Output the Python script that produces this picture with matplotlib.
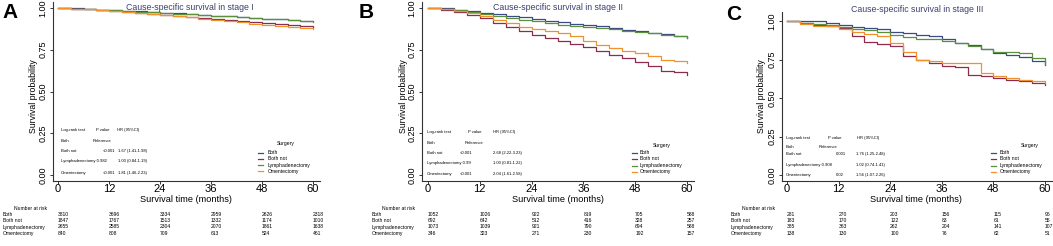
import numpy as np
import matplotlib
matplotlib.use("Agg")
import matplotlib.pyplot as plt
from matplotlib.transforms import blended_transform_factory

W, H = 1053, 246
plt.rcParams['font.family'] = ['Liberation Sans', 'DejaVu Sans']

# ---------------- data ----------------
months = list(range(0, 61, 3))
groups = ["Both", "Both not", "Lymphadenectomy", "Omentectomy"]
colors = ["#3d4a86", "#8c2d4e", "#5a8f3c", "#f0912c"]

stageI_both = [1.0, 0.998, 0.995, 0.991, 0.988, 0.984, 0.980, 0.976, 0.972, 0.968, 0.963,
               0.959, 0.955, 0.951, 0.946, 0.942, 0.937, 0.933, 0.928, 0.924, 0.920]
stageI_bothnot = [1.0, 0.997, 0.993, 0.988, 0.982, 0.976, 0.970, 0.964, 0.958, 0.952, 0.946,
                  0.940, 0.933, 0.927, 0.920, 0.914, 0.908, 0.903, 0.898, 0.893, 0.888]
stageI_lymph = [1.0, 0.997, 0.994, 0.991, 0.987, 0.983, 0.979, 0.975, 0.971, 0.967, 0.962,
                0.958, 0.954, 0.950, 0.945, 0.941, 0.936, 0.932, 0.927, 0.922, 0.918]
stageI_omen = [1.0, 0.996, 0.992, 0.986, 0.980, 0.974, 0.968, 0.962, 0.956, 0.950, 0.944,
               0.937, 0.930, 0.922, 0.915, 0.907, 0.900, 0.892, 0.885, 0.878, 0.872]

stageII_both = [1.0, 0.998, 0.990, 0.982, 0.972, 0.962, 0.953, 0.944, 0.935, 0.925, 0.915,
                0.905, 0.898, 0.890, 0.880, 0.870, 0.862, 0.852, 0.842, 0.832, 0.822]
stageII_bothnot = [1.0, 0.990, 0.975, 0.960, 0.940, 0.910, 0.885, 0.860, 0.840, 0.820, 0.800,
                   0.785, 0.765, 0.745, 0.720, 0.700, 0.675, 0.650, 0.625, 0.615, 0.598]
stageII_lymph = [1.0, 0.996, 0.987, 0.975, 0.962, 0.950, 0.940, 0.930, 0.920, 0.910, 0.900,
                 0.893, 0.886, 0.880, 0.872, 0.865, 0.857, 0.848, 0.840, 0.830, 0.822]
stageII_omen = [1.0, 0.995, 0.982, 0.968, 0.950, 0.930, 0.910, 0.885, 0.875, 0.865, 0.850,
                0.835, 0.800, 0.780, 0.762, 0.745, 0.730, 0.710, 0.690, 0.682, 0.672]

stageIII_both = [1.0, 1.0, 1.0, 0.990, 0.975, 0.963, 0.955, 0.945, 0.930, 0.920, 0.910,
                 0.905, 0.885, 0.860, 0.845, 0.820, 0.795, 0.780, 0.765, 0.740, 0.712]
stageIII_bothnot = [1.0, 0.985, 0.975, 0.970, 0.955, 0.900, 0.865, 0.850, 0.840, 0.770, 0.745,
                    0.730, 0.710, 0.700, 0.650, 0.640, 0.630, 0.620, 0.610, 0.600, 0.585]
stageIII_lymph = [1.0, 0.985, 0.978, 0.972, 0.960, 0.950, 0.940, 0.930, 0.910, 0.895, 0.885,
                  0.880, 0.872, 0.860, 0.840, 0.820, 0.800, 0.800, 0.790, 0.760, 0.720]
stageIII_omen = [1.0, 0.980, 0.970, 0.965, 0.950, 0.930, 0.915, 0.900, 0.860, 0.800, 0.745,
                 0.740, 0.730, 0.730, 0.730, 0.660, 0.645, 0.630, 0.620, 0.610, 0.600]

risk_times = [0, 12, 24, 36, 48, 60]
risk_I = [[3810, 3696, 3334, 2959, 2626, 2318],
          [1847, 1767, 1513, 1332, 1174, 1010],
          [2655, 2585, 2304, 2070, 1861, 1638],
          [840, 808, 709, 613, 524, 461]]
risk_II = [[1052, 1026, 922, 819, 705, 588],
           [692, 642, 512, 416, 328, 257],
           [1073, 1039, 921, 790, 694, 588],
           [346, 323, 271, 230, 192, 157]]
risk_III = [[281, 270, 203, 156, 115, 96],
            [183, 170, 122, 83, 61, 55],
            [385, 363, 262, 204, 141, 107],
            [138, 130, 100, 76, 62, 51]]

titles = ["Cause-specific survival in stage I", "Cause-specific survival in stage II",
          "Cause-specific survival in stage III"]
letters = ["A", "B", "C"]

logrank_I = [("Both not", "<0.001", "1.67 (1.41-1.98)"),
             ("Lymphadenectomy", "0.982", "1.00 (0.84-1.19)"),
             ("Omentectomy", "<0.001", "1.81 (1.46-2.23)")]
logrank_II = [("Both not", "<0.001", "2.68 (2.22-3.23)"),
              ("Lymphadenectomy", "0.99", "1.00 (0.81-1.22)"),
              ("Omentectomy", "<0.001", "2.04 (1.61-2.58)")]
logrank_III = [("Both not", "0.001", "1.76 (1.25-2.48)"),
               ("Lymphadenectomy", "0.908", "1.02 (0.74-1.41)"),
               ("Omentectomy", "0.02", "1.56 (1.07-2.26)")]

# ---------------- layout (pixels) ----------------
fig = plt.figure(figsize=(W / 100, H / 100), dpi=100)
fig.patch.set_facecolor("white")


def fx(x):
    return x / W


def fy(y):
    return 1 - y / H


def T(x, y, s, **kw):
    fig.text(fx(x), fy(y), s, **kw)


panels = [
    dict(curves=[stageI_both, stageI_bothnot, stageI_lymph, stageI_omen], risk=risk_I,
         lr=logrank_I, axl=53, x0=58, x60=313, axr=320, y1=8, y0=175, axb=181, axt=2,
         letter=(10, 13), title=(190, 8), ylab=33, risk_lab=3, nar=30,
         lr_x=(61, 96, 117, 93, 103, 118), lr_y=(130, 141, 151, 161, 173),
         leg=(286, 258, 268, (144, 153, 159, 165, 171))),
    dict(curves=[stageII_both, stageII_bothnot, stageII_lymph, stageII_omen], risk=risk_II,
         lr=logrank_II, axl=422, x0=428, x60=687, axr=694, y1=8, y0=175, axb=181, axt=2,
         letter=(366, 13), title=(558, 8), ylab=403, risk_lab=372, nar=398,
         lr_x=(427, 468, 493, 465, 460, 493), lr_y=(132, 143, 153, 163, 174),
         leg=(662, 632, 640, (145, 153, 159, 166, 172))),
    dict(curves=[stageIII_both, stageIII_bothnot, stageIII_lymph, stageIII_omen], risk=risk_III,
         lr=logrank_III, axl=782, x0=787, x60=1045, axr=1053, y1=21, y0=175, axb=181, axt=12,
         letter=(734, 15), title=(917, 9), ylab=762, risk_lab=731, nar=758,
         lr_x=(786, 828, 857, 819, 836, 856), lr_y=(138, 147, 154, 165, 175),
         leg=(1030, 991, 1000, (145, 153, 159, 166, 172))),
]

FS_LR = 3.0
FS_TAB = 3.6

for i, p in enumerate(panels):
    pxm = (p["x60"] - p["x0"]) / 60.0
    xlo = (p["axl"] - p["x0"]) / pxm
    xhi = 60 + (p["axr"] - p["x60"]) / pxm
    pyu = (p["y0"] - p["y1"])
    axt = p["axt"]
    ylo = -(p["axb"] - p["y0"]) / pyu
    yhi = 1 + (p["y1"] - axt) / pyu
    ax = fig.add_axes([fx(p["axl"]), fy(p["axb"]), fx(p["axr"] - p["axl"]), (p["axb"] - axt) / H])
    ax.set_xlim(xlo, xhi)
    ax.set_ylim(ylo, yhi)
    ax.patch.set_alpha(0)
    for s in ["top", "right"]:
        ax.spines[s].set_visible(False)
    for s in ["left", "bottom"]:
        ax.spines[s].set_color("#333333")
        ax.spines[s].set_linewidth(0.8)
    for y, c in zip(p["curves"], colors):
        ax.step(months, y, where="post", color=c, lw=0.9)
    ax.set_xticks(risk_times)
    ax.set_yticks([0, 0.25, 0.5, 0.75, 1.0])
    ax.set_yticklabels(["0.00", "0.25", "0.50", "0.75", "1.00"], rotation=90, va="center")
    ax.tick_params(axis="x", labelsize=8, length=2, width=0.7, pad=0.5, color="#333333")
    ax.tick_params(axis="y", labelsize=6.5, length=2.5, width=0.7, pad=1.5, color="#333333")

    T(p["title"][0], p["title"][1], titles[i], ha="center", va="center", fontsize=6.3, color="#3c4070")
    T(p["letter"][0], p["letter"][1], letters[i], ha="center", va="center", fontsize=15, fontweight="bold")
    T(p["ylab"], 96, "Survival probability", rotation=90, ha="center", va="center", fontsize=6.3)
    T((p["x0"] + p["x60"]) / 2, 199.5, "Survival time (months)", ha="center", va="center", fontsize=6.6)

    # log-rank table text
    lx = p["lr_x"]
    ly = p["lr_y"]
    T(lx[0], ly[0], "Log-rank test", fontsize=FS_LR, va="center")
    T(lx[1], ly[0], "P value", fontsize=FS_LR, va="center")
    T(lx[2], ly[0], "HR (95%CI)", fontsize=FS_LR, va="center")
    T(lx[0], ly[1], "Both", fontsize=FS_LR, va="center")
    T(lx[3], ly[1], "Reference", fontsize=FS_LR, va="center")
    for (name, pv, hr), yy in zip(p["lr"], ly[2:]):
        if name == "Lymphadenectomy":
            T(lx[0], yy, name + " " + pv, fontsize=FS_LR, va="center")
        else:
            T(lx[0], yy, name, fontsize=FS_LR, va="center")
            T(lx[4], yy, pv, fontsize=FS_LR, va="center")
        T(lx[5], yy, hr, fontsize=FS_LR, va="center")

    # legend
    lc, lline, ltext, lys = p["leg"]
    T(lc, lys[0], "Surgery", fontsize=FS_TAB, ha="center", va="center")
    for g, c, yy in zip(groups, colors, lys[1:]):
        fig.add_artist(plt.Line2D([fx(lline), fx(lline + 5)], [fy(yy), fy(yy)], color=c, lw=0.9,
                                  transform=fig.transFigure))
        T(ltext, yy, g, fontsize=FS_TAB, va="center")

    # number at risk table
    T(p["nar"], 208, "Number at risk", fontsize=FS_TAB, ha="center", va="center")
    tr = blended_transform_factory(ax.transData, fig.transFigure)
    for g, row, yy in zip(groups, p["risk"], [214, 220.5, 227, 233.5]):
        T(p["risk_lab"], yy, g, fontsize=FS_TAB, va="center")
        for t, n in zip(risk_times, row):
            fig.text(t, fy(yy), str(n), fontsize=FS_TAB, va="center", ha="left", transform=tr)

fig.savefig("out.png", dpi=100)
